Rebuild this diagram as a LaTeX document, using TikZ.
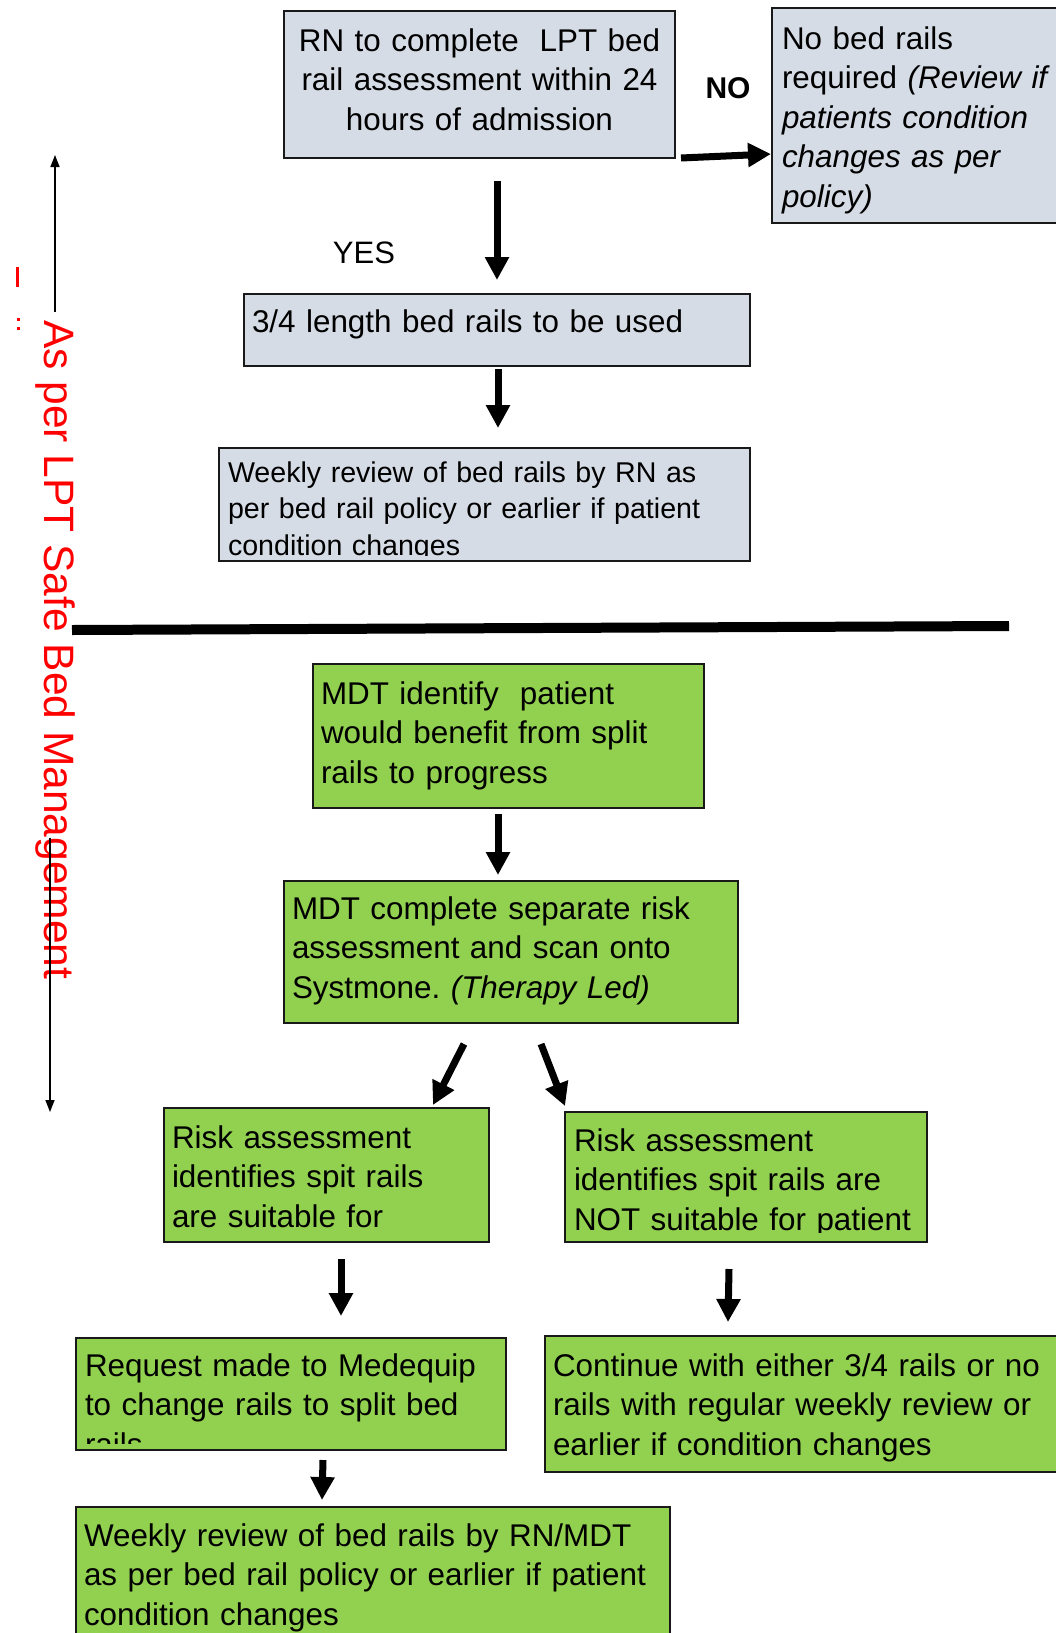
\documentclass[tikz,border=0pt]{standalone}
\usepackage{fontspec}
\setmainfont{Liberation Sans}
\usetikzlibrary{arrows.meta,calc}

\definecolor{railgrey}{HTML}{D6DCE5}
\definecolor{railgreen}{HTML}{92D050}
\newcommand\boxfont{\fontsize{31.4}{39.5}\selectfont}
\newcommand\smallboxfont{\fontsize{28.6}{36.5}\selectfont}
\frenchspacing

\tikzset{
  box/.style={draw=black!90, line width=2pt, anchor=north west, inner xsep=8pt, inner ysep=0pt, align=left, font=\boxfont},
  greybox/.style={box, fill=railgrey},
  greenbox/.style={box, fill=railgreen},
  boxtxt/.style={draw=none, fill=none, anchor=base west, inner sep=0pt, align=left, text height=0pt, text depth=0pt, path picture={}},
  arr/.style={line width=7pt, -{Triangle[length=23pt,width=23pt]}},
  larr/.style={line width=1.5pt, -{Triangle[length=12pt,width=9pt]}},
}

\begin{document}
\begin{tikzpicture}[x=1pt, y=-1pt]
    \useasboundingbox (0,0) rectangle (1056,1633);

    % ---- upper part: nursing assessment ---------------
    \node[greybox, align=center, text width=375pt, text height=40pt, text depth=107pt] (b1) at (283,10)
      {RN to complete~~LPT bed\\rail assessment within 24\\hours of admission};
    \node[greybox, text width=290pt, text height=41pt, text depth=174pt, inner xsep=10pt] (b2) at (771,7)
      {No bed rails\\required \textit{(Review if}\\\textit{patients condition}\\\textit{changes as per}\\\textit{policy)}};
    \node[greybox, text width=490pt, text height=38pt, text depth=34pt] (b3) at (243,293)
      {3/4 length bed rails to be used};
    \node[greybox, text width=515pt, text height=113pt, text depth=0pt,
          path picture={
            \clip (path picture bounding box.north west) rectangle ([yshift=6pt]path picture bounding box.south east);
            \node[boxtxt, text width=515pt, font=\smallboxfont] (t4) at ([xshift=8pt,yshift=-34pt]path picture bounding box.north west)
              {Weekly review of bed rails by RN as\\per bed rail policy or earlier if patient\\condition changes};
          }] (b4) at (218,447) {};

    \node[font=\bfseries\fontsize{30}{36}\selectfont] (no) at (728,88) {NO};
    \node[font=\fontsize{31}{36}\selectfont] (yes) at (364,253) {YES};

    % ---- divider -------------------------------------
    \draw[line width=10pt] (72,630) -- (1009,626);

    % ---- lower part: MDT split rails -----------------
    \node[greenbox, text width=375pt, text height=40pt, text depth=104pt] (b5) at (312,663)
      {MDT identify~~patient\\would benefit from split\\rails to progress};
    \node[greenbox, text width=438pt, text height=38pt, text depth=104pt] (b6) at (283,880)
      {MDT complete separate risk\\assessment and scan onto\\Systmone. \textit{(Therapy Led)}};
    \node[greenbox, text width=309pt, text height=40pt, text depth=94pt] (b7) at (163,1107)
      {Risk assessment\\identifies spit rails\\are suitable for};
    \node[greenbox, text width=346pt, text height=130pt, text depth=0pt,
          path picture={
            \clip (path picture bounding box.north west) rectangle ([yshift=10pt]path picture bounding box.south east);
            \node[boxtxt, text width=346pt, font=\boxfont] (t8) at ([xshift=8pt,yshift=-39pt]path picture bounding box.north west)
              {Risk assessment\\identifies spit rails are\\NOT suitable for patient};
          }] (b8) at (564,1111) {};
    \node[greenbox, text width=414pt, text height=112pt, text depth=0pt,
          path picture={
            \clip (path picture bounding box.north west) rectangle ([yshift=7pt]path picture bounding box.south east);
            \node[boxtxt, text width=414pt, font=\boxfont] (t9) at ([xshift=8pt,yshift=-38pt]path picture bounding box.north west)
              {Request made to Medequip\\to change rails to split bed\\rails};
          }] (b9) at (75,1337) {};
    \node[greenbox, text width=515pt, text height=40pt, text depth=96pt] (b10) at (544,1335)
      {Continue with either 3/4 rails or no\\rails with regular weekly review or\\earlier if condition changes};
    \node[greenbox, text width=578pt, text height=39pt, text depth=120pt] (b11) at (75,1506)
      {Weekly review of bed rails by RN/MDT\\as per bed rail policy or earlier if patient\\condition changes};

    % ---- arrows between the boxes --------------------
    \draw[arr] ($(b1.south)+(17.5,22)$) -- ($(b3.north)+(0,-13)$);
    \draw[arr] ($(b1.south east)+(5,-1)$) -- ($(b2.north west)+(0,147)$);
    \draw[arr] ($(b3.south)+(1,2)$) -- ($(b4.north)+(13.5,-19)$);
    \draw[arr] ($(b5.south)+(-10.5,5)$) -- ($(b6.north)+(-13,-5)$);
    \draw[arr] ($(b6.south)+(-47,20)$) -- ($(b7.north)+(106.5,-2)$);
    \draw[arr] ($(b6.south)+(30,20)$) -- ($(b8.north west)+(1,-5)$);
    \draw[arr] ($(b7.south)+(14.5,16)$) -- ($(b9.north)+(50,-21)$);
    \draw[arr] ($(b8.south)+(-17,26)$) -- ($(b10.north west)+(184,-13)$);
    \draw[arr] ($(b9.south)+(32,9)$) -- ($(b11.north west)+(247,-6)$);

    % ---- side label with its arrow -------------------
    \node[text=red, font=\fontsize{42.5}{50}\selectfont, rotate=-90, anchor=base west, inner sep=0pt] (lbl) at (44,320)
      {As per LPT Safe Bed Management};
    \coordinate (ltop) at (55,155);
    \coordinate (lbot) at (50,1112);
    \draw[larr] ($(lbl.base west -| ltop)+(0,-8)$) -- (ltop);
    \draw[larr] ($(lbl.base east -| lbot)+(0,-142)$) -- (lbot);

    % stray red marks at the left edge
    \fill[red] (16,267) rectangle (19,287);
    \fill[red] (17,318) rectangle (20,321);
    \fill[red] (17,327) rectangle (20,330);
\end{tikzpicture}
\end{document}
